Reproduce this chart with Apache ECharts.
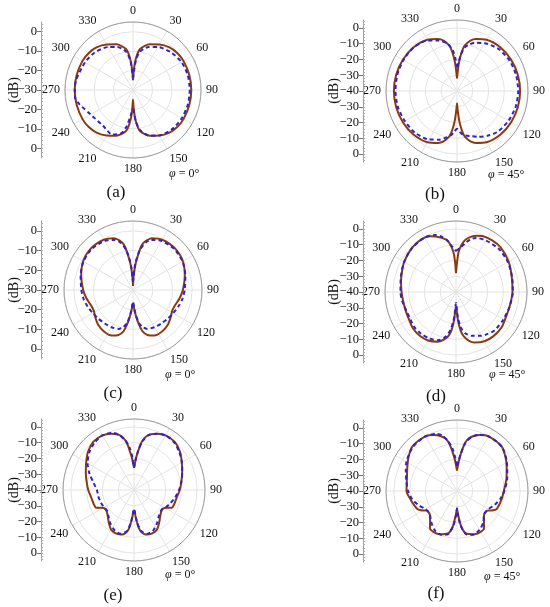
<!DOCTYPE html>
<html><head><meta charset="utf-8">
<script src="https://cdn.jsdelivr.net/npm/echarts@6/dist/echarts.min.js"></script>
<style>html,body{margin:0;padding:0;background:#fff}#c{width:550px;height:607px}</style>
</head><body><div id="c"></div>
<script>
// ---- data: [angle (deg), gain (dB)] ----
const aSolid=[[0,-25],[2,-21],[4,-16],[6,-12.5],[8,-10],[10,-8.5],[15,-6.5],[20,-5],[30,-3],[40,-1.2],[50,-0.3],[60,0],[75,0],[90,0],[105,0],[120,0],[130,-0.3],[140,-1.2],[150,-3],[160,-5],[165,-6.5],[170,-8.5],[172,-10],[174,-12.5],[176,-16],[178,-21],[180,-25],[182,-21],[184,-16],[186,-12.5],[188,-10],[190,-8.5],[195,-6.5],[200,-5],[210,-3],[220,-1.2],[230,-0.3],[240,0],[255,0],[270,0],[285,0],[300,0],[310,-0.3],[320,-1.2],[330,-3],[340,-5],[345,-6.5],[350,-8.5],[352,-10],[354,-12.5],[356,-16],[358,-21],[360,-25]];
const aDash=[[0,-24],[3,-20],[6,-14],[10,-10],[15,-8],[20,-6.5],[30,-4.5],[45,-2.5],[60,-1.2],[75,-0.8],[90,-0.8],[105,-0.8],[120,-1],[135,-1.5],[150,-3],[160,-5],[170,-9],[175,-14],[180,-20],[185,-17],[190,-11],[195,-7],[205,-4.7],[220,-6],[240,-4.8],[255,-1.5],[262,0],[270,0],[280,-0.3],[300,-1.5],[315,-2.5],[330,-4.5],[340,-6.5],[345,-8],[350,-10],[355,-15],[360,-24]];

const bSolid=[[0,-32],[2,-28],[4,-22],[6,-17],[8,-13],[10,-10.5],[15,-7],[20,-5],[30,-2.5],[45,-1],[60,-0.4],[75,-0.1],[90,0],[105,-0.1],[120,-0.4],[135,-1],[150,-2.5],[160,-5],[165,-7],[170,-10.5],[172,-13],[174,-17],[176,-22],[178,-28],[180,-32],[182,-28],[184,-22],[186,-17],[188,-13],[190,-10.5],[195,-7],[200,-5],[210,-2.5],[225,-1],[240,-0.4],[255,-0.1],[270,0],[285,-0.1],[300,-0.4],[315,-1],[330,-2.5],[340,-5],[345,-7],[350,-10.5],[352,-13],[354,-17],[356,-22],[358,-28],[360,-32]];
const bDash=[[0,-25],[3,-22],[6,-17],[10,-12],[15,-9.5],[20,-7.5],[30,-5],[45,-2.5],[60,-1.5],[75,-1.2],[90,-1.2],[105,-1.5],[120,-2.3],[135,-3.5],[145,-5.5],[155,-8],[165,-10.5],[172,-12],[176,-14],[180,-16],[184,-14],[188,-11.5],[195,-9],[200,-7.2],[210,-4.5],[225,-2.5],[240,-1.8],[255,-1.2],[270,-1],[285,-0.8],[300,-0.8],[315,-1],[330,-3],[340,-6],[348,-9],[354,-14],[357,-19],[360,-25]];

const cSolid=[[0,-28],[2,-25],[4,-20],[6,-16],[8,-12.5],[10,-8.5],[12,-6],[15,-4],[20,-2],[30,-0.5],[45,0],[60,-0.8],[75,-2.8],[90,-4.7],[100,-6],[110,-7.3],[118,-7.5],[125,-6.5],[135,-5],[145,-4.3],[155,-4.5],[162,-6],[167,-8.5],[170,-12],[173,-16],[176,-20],[180,-23],[184,-20],[187,-16],[190,-12],[193,-8.5],[198,-6],[205,-4.5],[215,-4.3],[225,-5],[235,-6.5],[242,-7.5],[250,-7.3],[260,-6],[270,-4.7],[285,-2.8],[300,-0.8],[315,0],[330,-0.5],[340,-2],[345,-4],[348,-6],[350,-8.5],[352,-12.5],[354,-16],[356,-20],[358,-25],[360,-28]];
const cDash=[[0,-26],[2,-24],[4,-19],[6,-15],[8,-12],[10,-9],[15,-5],[20,-3],[30,-1.2],[45,-0.5],[60,-1],[75,-2.5],[90,-3.8],[100,-4.5],[110,-5.5],[120,-6.5],[130,-7.2],[140,-7.8],[150,-8.2],[160,-9],[165,-10.5],[170,-13],[175,-19],[180,-24],[185,-19],[190,-13],[195,-10.5],[200,-9],[210,-8.2],[220,-7.8],[230,-7.2],[240,-6.5],[250,-5.5],[260,-4.5],[270,-3.8],[285,-2.5],[300,-1],[315,-0.5],[330,-1.2],[340,-3],[345,-5],[350,-9],[352,-12],[354,-15],[356,-19],[358,-24],[360,-26]];

const dSolid=[[0,-28],[2,-21],[4,-14],[7,-9.5],[10,-6.5],[15,-3.8],[20,-2],[25,-0.8],[35,0],[45,0],[60,-1.5],[75,-3.4],[90,-4.2],[105,-4.8],[115,-4.7],[128,-3.4],[140,-3.3],[150,-4],[160,-6],[165,-8],[170,-11.5],[173,-15],[176,-22],[180,-31],[184,-22],[187,-15],[190,-11.5],[195,-8.5],[200,-6.5],[210,-4.5],[220,-4],[230,-4.3],[240,-5.5],[250,-6],[260,-6],[270,-5.5],[281,-4.5],[290,-3.5],[300,-2],[315,-0.5],[327,0],[335,-1],[340,-2.5],[345,-4.5],[350,-6.5],[353,-9.5],[356,-14],[358,-20],[360,-28]];
const dDash=[[0,-14],[5,-12],[10,-9],[15,-5.5],[20,-3.5],[30,-2.2],[45,-1.5],[60,-2],[75,-3.2],[90,-4],[105,-4.8],[120,-5.3],[135,-5.5],[145,-7],[150,-8],[160,-10.5],[167,-13],[172,-17],[176,-24],[180,-33],[184,-24],[188,-16],[193,-11],[200,-7.5],[210,-6],[220,-5.5],[230,-5.5],[245,-6.5],[260,-5.5],[270,-4.8],[285,-3.8],[300,-2],[315,-0.6],[330,-0.2],[340,-1.5],[345,-3.5],[350,-6.5],[355,-11],[360,-14]];

const eSolid=[[0,-26],[2,-23],[4,-19],[6,-15.5],[8,-11],[10,-8],[13,-5],[17,-3],[22,-1.5],[30,0],[40,0],[50,-2],[60,-5],[70,-7.5],[80,-9.5],[90,-11],[100,-12.5],[110,-13],[115,-13.5],[118,-16],[122,-18],[128,-18],[135,-16.5],[142,-14],[150,-11],[158,-10.2],[165,-10.8],[170,-13],[173,-16],[176,-22],[180,-27],[184,-22],[187,-16],[190,-13],[195,-10.8],[202,-10.2],[210,-11],[218,-14],[225,-16.5],[232,-18],[238,-18],[242,-16],[245,-13.5],[250,-13],[260,-12.5],[270,-11],[280,-9.5],[290,-7.5],[300,-5],[310,-2],[320,0],[330,0],[338,-1.5],[343,-3],[347,-5],[350,-8],[352,-11],[354,-15.5],[356,-19],[358,-23],[360,-26]];
const eDash=[[0,-26],[3,-21],[6,-15],[10,-8.5],[15,-4],[22,-1.5],[30,0],[40,-0.5],[50,-2.5],[60,-5],[70,-7.5],[80,-9.5],[90,-11.5],[100,-13.5],[110,-15.5],[118,-17],[125,-18.5],[135,-17.5],[145,-14.5],[155,-11.5],[163,-11],[170,-13.5],[175,-20],[180,-28],[185,-20],[190,-13.5],[197,-11],[205,-11.5],[215,-14],[225,-17],[232,-18.5],[240,-18],[250,-17.5],[260,-17],[270,-16.5],[280,-14],[290,-10],[300,-6],[310,-3],[320,-1],[330,0],[340,-1.5],[345,-4],[350,-8],[354,-13],[357,-19],[360,-26]];

const fSolid=[[0,-27],[2,-24],[4,-20],[6,-16],[8,-12],[10,-8.5],[13,-5.5],[17,-3.5],[22,-1.7],[30,0],[45,0],[55,-2.5],[64,-5],[75,-7.5],[84,-9.4],[100,-11.2],[114,-12.3],[118,-14],[123,-17.2],[132,-17],[138,-14.5],[144,-10.8],[158,-10.4],[168,-12.5],[173,-17],[177,-24.5],[180,-28.6],[183,-24.5],[187,-17],[192,-12.5],[202,-10.4],[216,-10.8],[222,-14.5],[228,-17],[237,-17.2],[242,-14],[246,-12.3],[260,-10],[270,-8],[282,-7.5],[296,-5],[305,-2.5],[315,0],[330,0],[338,-1.7],[343,-3.5],[347,-5.5],[350,-8.5],[352,-12],[354,-16],[356,-20],[358,-24],[360,-27]];
const fDash=[[0,-24],[3,-21],[6,-16],[10,-9],[15,-4.5],[22,-1.5],[30,0],[45,0],[60,-3.5],[75,-7],[90,-10],[100,-12],[110,-14.5],[120,-17],[130,-17.5],[140,-14],[150,-11.5],[160,-10.5],[168,-12],[174,-18],[178,-25],[180,-29],[182,-25],[186,-18],[192,-12],[200,-10.5],[210,-11.5],[220,-14.5],[228,-17],[235,-17.5],[240,-17],[250,-14],[260,-11],[270,-9],[280,-7.5],[290,-5.5],[300,-3],[315,-0.5],[330,0],[340,-1.5],[345,-3.5],[350,-8],[354,-13],[357,-19],[360,-24]];

// ---- tick labels ----
const angleLabels=[0,30,60,90,120,150,180,210,240,270,300,330];
const dbTicks30=[30,20,10,0,-10,-20,-30];
const dbLabels30=['0','\u221210','\u221220','\u221230','\u221220','\u221210','0'];
const dbTicks40=[40,30,20,10,0,-10,-20,-30,-40];
const dbLabels40=['0','\u221210','\u221220','\u221230','\u221240','\u221230','\u221220','\u221210','0'];
const captions=['(a)','(b)','(c)','(d)','(e)','(f)'];
const phiTexts=['0°','45°','0°','45°','0°','45°'];

// ---- layout ----
const layout=[
 {cx:133,cy:90,R:68,min:-30,axX:41,dbX:14,phiX:169,phiY:174,capX:116,capY:193},
 {cx:457,cy:91,R:71,min:-40,axX:363,dbX:334,phiX:488,phiY:175,capX:435,capY:195},
 {cx:133,cy:290,R:69,min:-30,axX:41,dbX:14,phiX:165,phiY:375,capX:113,capY:394},
 {cx:456,cy:292,R:71,min:-40,axX:363,dbX:334,phiX:489,phiY:375,capX:436,capY:397},
 {cx:134,cy:490,R:71,min:-40,axX:41,dbX:14,phiX:165,phiY:575,capX:113,capY:596},
 {cx:457,cy:491,R:71,min:-40,axX:363,dbX:334,phiX:484,phiY:577,capX:436,capY:594}
];
const curves=[[aSolid,aDash],[bSolid,bDash],[cSolid,cDash],[dSolid,dDash],[eSolid,eDash],[fSolid,fDash]];
const MAXDB=5;
const FONT='"Liberation Serif","DejaVu Serif",serif';

const option={animation:false,polar:[],angleAxis:[],radiusAxis:[],grid:[],xAxis:[],yAxis:[],series:[],graphic:[]};
layout.forEach((p,i)=>{
  option.polar.push({center:[p.cx,p.cy],radius:p.R});
  option.angleAxis.push({polarIndex:i,type:'value',min:0,max:360,interval:30,startAngle:90,clockwise:true,
    axisLine:{lineStyle:{color:'#9c9c9c',width:1}},axisTick:{show:false},
    axisLabel:{fontFamily:FONT,fontSize:12,color:'#111',margin:5,customValues:angleLabels},
    splitLine:{show:true,lineStyle:{color:'#e3e3e3',width:1}}});
  option.radiusAxis.push({polarIndex:i,type:'value',min:p.min,max:MAXDB,interval:10,
    axisLine:{show:false},axisTick:{show:false},axisLabel:{show:false},
    splitLine:{show:true,lineStyle:{color:'#e3e3e3',width:1}}});
  const span=MAXDB-p.min;
  const ticks=p.min===-30?dbTicks30:dbTicks40;
  const labs=p.min===-30?dbLabels30:dbLabels40;
  const minor=[];for(let v=-span+1;v<=span-1;v+=2)minor.push(v);
  option.grid.push({left:p.axX,top:p.cy-p.R,width:1,height:2*p.R});
  option.xAxis.push({gridIndex:i,type:'value',show:false});
  option.yAxis.push({gridIndex:i,type:'value',min:-span,max:span,position:'left',
    axisLine:{show:true,lineStyle:{color:'#a0a0a0'}},
    axisTick:{show:true,customValues:ticks,length:4,lineStyle:{color:'#777'}},
    axisLabel:{customValues:ticks,margin:4,fontFamily:FONT,fontSize:12.5,color:'#111',
      formatter:(v)=>{const k=ticks.indexOf(v);return k>=0?labs[k]:'';}},
    splitLine:{show:false}});
  option.yAxis.push({gridIndex:i,type:'value',min:-span,max:span,position:'left',
    axisLine:{show:false},
    axisTick:{show:true,inside:true,customValues:minor,length:2,lineStyle:{color:'#aaa'}},
    axisLabel:{show:false},splitLine:{show:false}});
  option.series.push({type:'line',coordinateSystem:'polar',polarIndex:i,showSymbol:false,smooth:0.25,
    data:curves[i][0].map(d=>[d[1],d[0]]),lineStyle:{color:'#8b3a0e',width:2},z:3});
  option.series.push({type:'line',coordinateSystem:'polar',polarIndex:i,showSymbol:false,smooth:0.25,
    data:curves[i][1].map(d=>[d[1],d[0]]),lineStyle:{color:'#2b22d4',width:2,type:[4,3]},z:4});
  option.graphic.push({type:'text',x:p.dbX,y:p.cy,rotation:Math.PI/2,
    style:{text:'(dB)',font:'14px '+FONT,fill:'#111',textAlign:'center',textVerticalAlign:'middle'}});
  option.graphic.push({type:'text',x:p.phiX,y:p.phiY,
    style:{text:'{i|φ} = '+phiTexts[i],fill:'#111',textVerticalAlign:'middle',font:'12px '+FONT,
      rich:{i:{fontStyle:'italic',fontFamily:FONT,fontSize:12,fill:'#111'}}}});
  option.graphic.push({type:'text',x:p.capX,y:p.capY,
    style:{text:captions[i],font:'17px '+FONT,fill:'#111',textAlign:'center',textVerticalAlign:'middle'}});
});
const chart=echarts.init(document.getElementById('c'),null,{renderer:'canvas'});
chart.setOption(option);
</script></body></html>
